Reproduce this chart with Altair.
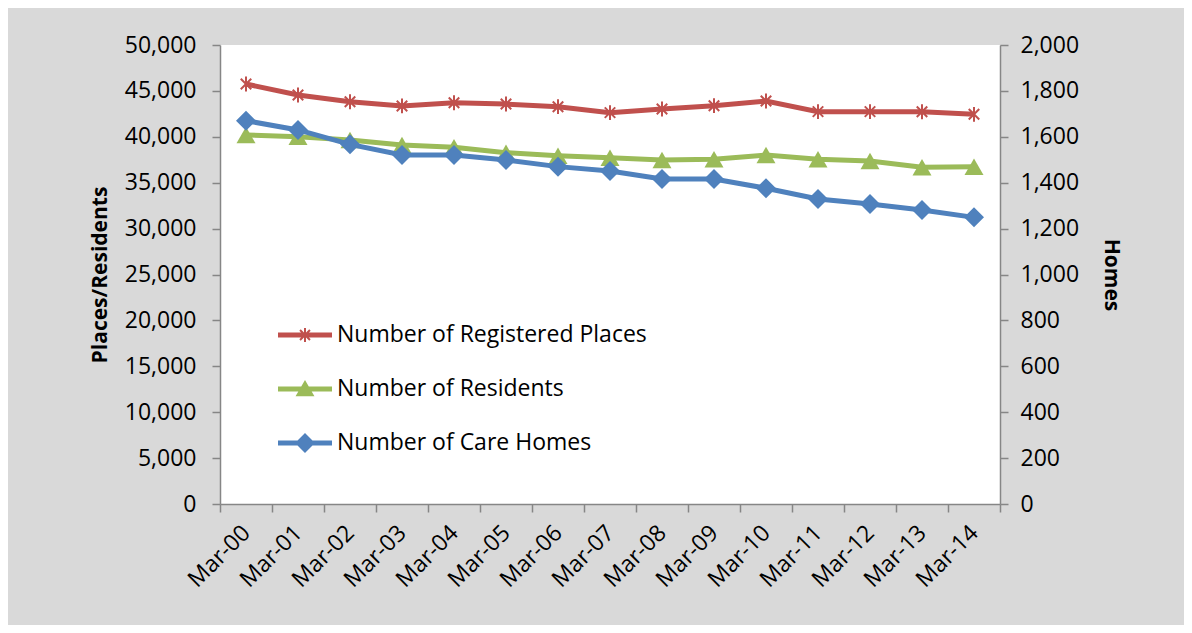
import altair as alt
import pandas as pd

months = ["Mar-00", "Mar-01", "Mar-02", "Mar-03", "Mar-04", "Mar-05", "Mar-06", "Mar-07",
          "Mar-08", "Mar-09", "Mar-10", "Mar-11", "Mar-12", "Mar-13", "Mar-14"]
places = [45750, 44550, 43820, 43360, 43710, 43570, 43280, 42630,
          43030, 43390, 43900, 42740, 42740, 42730, 42450]
residents = [40200, 40010, 39650, 39110, 38860, 38270, 37940, 37720,
             37470, 37550, 38020, 37550, 37360, 36680, 36740]
homes = [1670, 1630, 1567, 1521, 1521, 1499, 1470, 1451,
         1416, 1416, 1376, 1329, 1307, 1281, 1249]

series_names = ["Number of Registered Places", "Number of Residents", "Number of Care Homes"]
series_colors = ["#C0504D", "#9BBB59", "#4F81BD"]

FONT = "Open Sans"
AXIS_GRAY = "#868686"

df = pd.DataFrame({
    "month": months * 3,
    "series": [series_names[0]] * 15 + [series_names[1]] * 15 + [series_names[2]] * 15,
    "value": places + residents + homes,
})

# legend glyphs: thick line + marker, all subpaths clockwise
bar = "M-1,-0.093L1,-0.093L1,0.093L-1,0.093Z"
leg_star = (bar + "M-0.037,-0.26L0.037,-0.26L0.037,0.26L-0.037,0.26Z"
            "M0.158,0.21L-0.21,-0.158L-0.158,-0.21L0.21,0.158Z"
            "M0.21,-0.158L-0.158,0.21L-0.21,0.158L0.158,-0.21Z")
leg_tri = bar + "M0,-0.33L0.35,0.27L-0.35,0.27Z"
leg_dia = bar + "M0,-0.37L0.37,0L0,0.37L-0.37,0Z"
star_path = "M0,-1L0,1M-0.707,-0.707L0.707,0.707M-0.707,0.707L0.707,-0.707"

x_enc = alt.X(
    "month:N", sort=months, bandPosition=0.5,
    scale=alt.Scale(type="band", paddingInner=0, paddingOuter=0),
    axis=alt.Axis(title=None, tickBand="extent", labelAngle=315, labelAlign="right",
                  labelBaseline="middle", labelPadding=17, tickSize=8,
                  domainColor=AXIS_GRAY, tickColor=AXIS_GRAY, domainWidth=1.5, tickWidth=1.5,
                  labelFont=FONT, labelFontSize=23, labelColor="black"),
)

y_left = alt.Y(
    "value:Q",
    scale=alt.Scale(domain=[0, 50000]),
    axis=alt.Axis(title="Places/Residents", values=list(range(0, 50001, 5000)), format=",.0f",
                  grid=False, tickSize=8, labelPadding=16, titlePadding=14,
                  domainColor=AXIS_GRAY, tickColor=AXIS_GRAY, domainWidth=1.5, tickWidth=1.5,
                  labelFont=FONT, labelFontSize=23, labelColor="black",
                  titleFont=FONT, titleFontSize=21, titleFontWeight="bold", titleColor="black"),
)

y_right = alt.Y(
    "value:Q",
    scale=alt.Scale(domain=[0, 2000]),
    axis=alt.Axis(title="Homes", orient="right", values=list(range(0, 2001, 200)), format=",.0f",
                  grid=False, tickSize=8, labelPadding=12, titlePadding=22,
                  domainColor=AXIS_GRAY, tickColor=AXIS_GRAY, domainWidth=1.5, tickWidth=1.5,
                  labelFont=FONT, labelFontSize=23, labelColor="black",
                  titleFont=FONT, titleFontSize=21, titleFontWeight="bold", titleColor="black"),
)

base = alt.Chart(df)

def sel(i):
    return alt.datum.series == series_names[i]

places_line = base.transform_filter(sel(0)).mark_line(color=series_colors[0], strokeWidth=5).encode(x=x_enc, y=y_left)
places_pts = base.transform_filter(sel(0)).mark_point(
    shape=star_path, filled=False, color=series_colors[0], strokeWidth=2, size=220, opacity=1
).encode(x=x_enc, y=y_left)
res_line = base.transform_filter(sel(1)).mark_line(color=series_colors[1], strokeWidth=5).encode(x=x_enc, y=y_left)
res_pts = base.transform_filter(sel(1)).mark_point(
    shape="triangle-up", filled=True, color=series_colors[1], size=360, opacity=1
).encode(x=x_enc, y=y_left)

legend_layer = base.transform_filter("datum.value < 0").mark_point(filled=True, opacity=1).encode(
    x=x_enc, y=y_left,
    color=alt.Color("series:N", scale=alt.Scale(domain=series_names, range=series_colors),
                    legend=alt.Legend(title=None, orient="none", legendX=58, legendY=263,
                                      symbolSize=2916, symbolStrokeWidth=0, rowPadding=15,
                                      labelOffset=5, padding=0, labelFont=FONT,
                                      labelFontSize=23, labelColor="black", labelLimit=500,
                                      symbolOpacity=1)),
    shape=alt.Shape("series:N", scale=alt.Scale(domain=series_names, range=[leg_star, leg_tri, leg_dia])),
)

left = alt.layer(places_line, res_line, places_pts, res_pts, legend_layer)

homes_line = base.transform_filter(sel(2)).mark_line(color=series_colors[2], strokeWidth=5).encode(x=x_enc, y=y_right)
homes_pts = base.transform_filter(sel(2)).mark_point(
    shape="diamond", filled=True, color=series_colors[2], size=400, opacity=1
).encode(x=x_enc, y=y_right)
right = alt.layer(homes_line, homes_pts)

chart = alt.layer(left, right).resolve_scale(y="independent").properties(
    width=780, height=459,
    autosize=alt.AutoSizeParams(type="none"),
    padding={"left": 212, "top": 37, "right": 184, "bottom": 121},
    background="#D9D9D9",
).configure_view(fill="white", stroke=None)

chart.save("out.html", embed_options={"renderer": "svg", "actions": False})
